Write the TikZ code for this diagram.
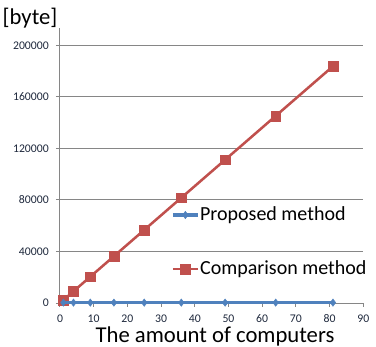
\documentclass[tikz,border=0pt]{standalone}
\usepackage{fontspec}
\setmainfont{Carlito}
\usetikzlibrary{plotmarks}
\begin{document}
\begin{tikzpicture}[x=2.5275pt,y=0.96563pt]

% definitions
\definecolor{gridgray}{RGB}{134,134,134}
\definecolor{tickblue}{RGB}{30,40,60}
\definecolor{propblue}{RGB}{79,129,189}
\definecolor{compred}{RGB}{192,80,77}

\tikzstyle{grid} = [draw=gridgray, line width=0.75pt]
\tikzstyle{ticklabel} = [font=\fontsize{8.8}{10}\selectfont, text=tickblue, inner sep=0pt]
\tikzstyle{biglabel} = [font=\fontsize{17}{20}\selectfont, inner sep=0pt]
\tikzstyle{legendlabel} = [font=\fontsize{15}{18}\selectfont, anchor=west, inner sep=0pt]
\tikzstyle{proposed} = [draw=propblue, line width=2.5pt, mark=diamond*, mark size=2.8pt, mark options={fill=propblue, draw=propblue, line width=0.3pt}]
\tikzstyle{comparison} = [draw=compred, line width=1.9pt, mark=square*, mark size=3.6pt, mark options={fill=compred, draw=compred, line width=0.3pt}]

\useasboundingbox (-17.8,-34.17) rectangle (93.77,235.33);

% the grid and axes
\foreach \y in {40,80,...,200}
{
  \draw [grid] (-1.2,\y) -- (89.8,\y);
  \node (ylab\y) [ticklabel, anchor=east] at (-3.26,\y) {\y000};
}
\draw [grid] (0,0) -- (0,213.6);
\draw [grid] (-1.2,0) -- (89.8,0);
\node (ylab0) [ticklabel, anchor=east] at (-3.26,0) {0};
\foreach \x in {0,10,...,90}
{
  \draw [grid] (\x,0) -- (\x,-3);
  \node (xlab\x) [ticklabel] at (\x,-12.4) {\x};
}

% the data
\draw [comparison] plot coordinates {(1,2.27) (4,9.08) (9,20.43) (16,36.32) (25,56.75) (36,81.72) (49,111.23) (64,145.28) (81,183.87)};
\draw [proposed] plot coordinates {(1,0.3) (4,0.3) (9,0.3) (16,0.3) (25,0.3) (36,0.3) (49,0.3) (64,0.3) (81,0.3)};

% the legend
\coordinate (p1) at (33.5,68.35);
\coordinate (p2) at (40.95,68.35);
\coordinate (c1) at (33.5,26.4);
\coordinate (c2) at (40.95,26.4);
\draw [proposed, mark=none] (p1) -- (p2);
\path [proposed, draw=none] plot coordinates {(37.2,68.35)};
\draw [comparison, mark=none] (c1) -- (c2);
\path [comparison, draw=none] plot coordinates {(37.2,26.4)};
\node (lp) [legendlabel] at (41.5,68.35) {Proposed method};
\node (lc) [legendlabel] at (41.5,26.4) {Comparison method};

% axis titles
\node (yt) [biglabel] at (-8.9,221.4) {[byte]};
\node (xt) [biglabel] at (46,-26) {The amount of computers};

\end{tikzpicture}
\end{document}
